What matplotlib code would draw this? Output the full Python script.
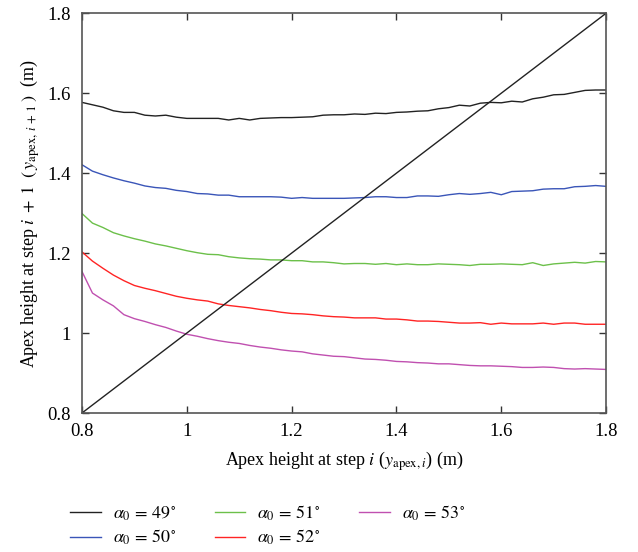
import matplotlib
matplotlib.use('Agg')
import matplotlib.pyplot as plt
import numpy as np

plt.rcParams['font.family'] = ['Liberation Serif', 'DejaVu Serif']
plt.rcParams['mathtext.fontset'] = 'stix'

# apex height at step i (m)
x = [0.80, 0.82, 0.84, 0.86, 0.88, 0.90, 0.92, 0.94, 0.96, 0.98,
     1.00, 1.02, 1.04, 1.06, 1.08, 1.10, 1.12, 1.14, 1.16, 1.18,
     1.20, 1.22, 1.24, 1.26, 1.28, 1.30, 1.32, 1.34, 1.36, 1.38,
     1.40, 1.42, 1.44, 1.46, 1.48, 1.50, 1.52, 1.54, 1.56, 1.58,
     1.60, 1.62, 1.64, 1.66, 1.68, 1.70, 1.72, 1.74, 1.76, 1.78, 1.80]

y49 = [1.577, 1.571, 1.565, 1.556, 1.552, 1.552, 1.545, 1.543, 1.545, 1.540,
       1.537, 1.537, 1.537, 1.537, 1.533, 1.537, 1.533, 1.537, 1.538, 1.539,
       1.539, 1.540, 1.541, 1.545, 1.546, 1.546, 1.548, 1.547, 1.550, 1.549,
       1.552, 1.553, 1.555, 1.556, 1.561, 1.564, 1.570, 1.568, 1.575, 1.577,
       1.576, 1.580, 1.578, 1.586, 1.590, 1.596, 1.597, 1.602, 1.607, 1.608, 1.608]

y50 = [1.421, 1.405, 1.396, 1.388, 1.381, 1.375, 1.368, 1.364, 1.362, 1.357,
       1.354, 1.349, 1.348, 1.345, 1.345, 1.341, 1.341, 1.341, 1.341, 1.340,
       1.337, 1.339, 1.337, 1.337, 1.337, 1.337, 1.338, 1.339, 1.341, 1.341,
       1.339, 1.339, 1.343, 1.343, 1.342, 1.346, 1.349, 1.347, 1.349, 1.352,
       1.346, 1.354, 1.355, 1.356, 1.360, 1.361, 1.361, 1.366, 1.367, 1.369, 1.367]

y51 = [1.299, 1.275, 1.264, 1.251, 1.243, 1.236, 1.230, 1.223, 1.218, 1.212,
       1.206, 1.201, 1.197, 1.196, 1.191, 1.188, 1.186, 1.185, 1.183, 1.183,
       1.181, 1.181, 1.178, 1.178, 1.176, 1.173, 1.174, 1.174, 1.172, 1.174,
       1.171, 1.173, 1.171, 1.171, 1.173, 1.172, 1.171, 1.169, 1.172, 1.172,
       1.173, 1.172, 1.171, 1.176, 1.169, 1.173, 1.175, 1.177, 1.175, 1.179, 1.178]

y52 = [1.203, 1.180, 1.162, 1.145, 1.131, 1.119, 1.112, 1.106, 1.099, 1.092,
       1.087, 1.083, 1.080, 1.073, 1.069, 1.066, 1.063, 1.059, 1.056, 1.052,
       1.049, 1.048, 1.046, 1.043, 1.041, 1.040, 1.038, 1.038, 1.038, 1.035,
       1.035, 1.033, 1.030, 1.030, 1.029, 1.027, 1.025, 1.025, 1.026, 1.022,
       1.025, 1.023, 1.023, 1.023, 1.025, 1.022, 1.025, 1.025, 1.022, 1.022, 1.022]

y53 = [1.154, 1.100, 1.083, 1.068, 1.046, 1.036, 1.029, 1.021, 1.014, 1.005,
       0.997, 0.992, 0.986, 0.981, 0.977, 0.974, 0.969, 0.965, 0.962, 0.958,
       0.955, 0.953, 0.948, 0.945, 0.942, 0.941, 0.938, 0.935, 0.934, 0.932,
       0.929, 0.928, 0.926, 0.925, 0.923, 0.923, 0.921, 0.919, 0.918, 0.918,
       0.917, 0.916, 0.914, 0.914, 0.915, 0.914, 0.911, 0.910, 0.911, 0.910, 0.909]

angles = [49, 50, 51, 52, 53]
colors = ['#222222', '#3a55b8', '#6cc04a', '#ff2424', '#c050b0']
ticks = [0.8, 1.0, 1.2, 1.4, 1.6, 1.8]
tick_labels = ['0.8', '1', '1.2', '1.4', '1.6', '1.8']

fig = plt.figure(figsize=(6.38, 5.52), dpi=100)
ax = fig.add_axes([0.1285, 0.2518, 0.8215, 0.7242])

for ys, a, c in zip([y49, y50, y51, y52, y53], angles, colors):
    ax.plot(x, ys, color=c, lw=1.0, label=r'$\alpha_0\,=\,%d^{\circ}$' % a)

# identity line y_{i+1} = y_i
ax.plot([0.8, 1.8], [0.8, 1.8], color='#222222', lw=1.0)

ax.set_xlim(0.8, 1.8)
ax.set_ylim(0.8, 1.8)
ax.set_xticks(ticks)
ax.set_xticklabels(tick_labels)
ax.set_yticks(ticks)
ax.set_yticklabels(tick_labels)
ax.tick_params(direction='in', top=True, right=True, length=5, width=1,
               labelsize=13.5, color='#333333')
ax.tick_params(axis='x', pad=7)
ax.tick_params(axis='y', pad=8)
for s in ax.spines.values():
    s.set_color('#555555')
    s.set_linewidth(1.2)

ax.set_xlabel(r'Apex height at step $i$ ($y_{\mathrm{apex},i}$) (m)', fontsize=13, labelpad=7)
ax.set_ylabel(r'Apex height at step $i\;+\;1$ $\;(\,y_{\mathrm{apex},\,i\,+\,1}\;)$  (m)',
              fontsize=13, labelpad=4)

fig.legend(loc='upper left', bbox_to_anchor=(0.085, 0.118), ncol=3, frameon=False,
           fontsize=13, handlelength=1.7, handletextpad=0.65, columnspacing=2.15,
           labelspacing=0.3)

fig.savefig('out.png', dpi=100)
